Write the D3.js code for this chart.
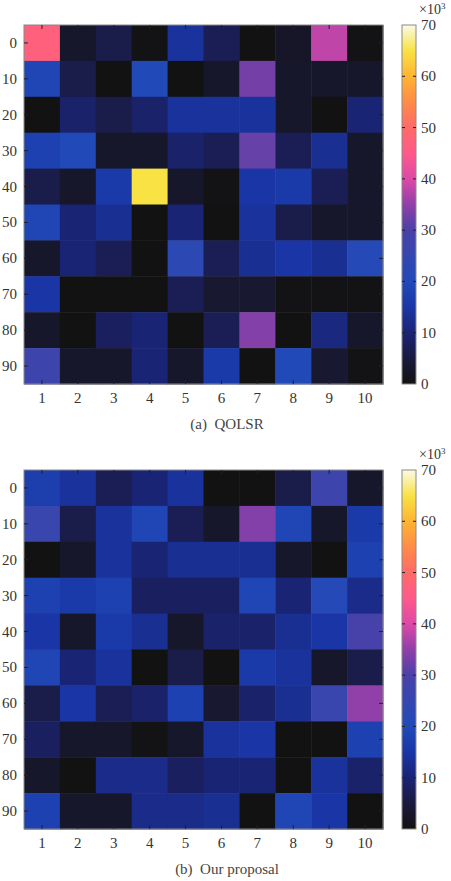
<!DOCTYPE html>
<html>
<head>
<meta charset="utf-8">
<script src="https://cdn.jsdelivr.net/npm/d3@7"></script>
<style>
  body { margin: 0; background: #fff; }
  svg { display: block; font-family: "Liberation Serif", "DejaVu Serif", serif; }
</style>
</head>
<body>
<svg id="fig" width="451" height="881"></svg>
<script>
// columns and rows of the grid
const cols = [1, 2, 3, 4, 5, 6, 7, 8, 9, 10];
const rows = [0, 10, 20, 30, 40, 50, 60, 70, 80, 90];
const cbTicks = [0, 10, 20, 30, 40, 50, 60, 70];

// values in thousands, one array per row (a) QOLSR
const qolsr = [
  [47, 3, 6, 0.5, 14, 7, 0, 2.5, 38, 0.5],
  [19, 6, 0, 20, 0, 3, 33, 3, 3, 3],
  [0, 9, 6, 9, 14, 14, 14, 3, 0, 10],
  [18, 20, 3, 3, 9, 7, 32, 7, 13, 3],
  [6, 3, 16, 65, 3, 0.5, 15, 16, 7, 3],
  [19, 10, 13, 0, 10, 0, 14, 6, 3, 3],
  [3, 10, 7, 0, 23, 7, 13, 15, 13, 21],
  [15, 0, 0, 0, 7, 3.5, 3.5, 0.5, 0.5, 0.5],
  [3, 0, 8, 10, 0, 7, 34, 0, 11, 3],
  [27, 3, 3, 10, 3, 16, 0, 20, 3.5, 0.5]
];

// (b) Our proposal
const proposal = [
  [17, 14, 7, 10, 14, 0, 0, 6, 27, 3],
  [26, 6, 14, 19, 7, 3, 34, 19, 3, 16],
  [0, 3, 14, 10, 13, 13, 13, 3, 0, 18],
  [18, 16, 18, 8, 8, 8, 19, 10, 21, 12],
  [15, 3, 16, 13, 3, 9, 9, 13, 15, 29],
  [19, 10, 14, 0, 6, 0, 16, 14, 3, 6],
  [6, 15, 7, 9, 18, 3.5, 9, 13, 26, 35],
  [8, 3, 3, 0.5, 3, 14, 15, 0, 0, 18],
  [3, 0, 12, 12, 8, 10, 10, 0, 14, 9],
  [18, 3, 3, 12, 12, 13, 0, 19, 15, 0]
];

const panels = [
  { data: qolsr, caption: "(a)  QOLSR", top: 25 },
  { data: proposal, caption: "(b)  Our proposal", top: 470 }
];

const cmapStops = [0, 5, 10, 15, 20, 25, 30, 35, 40, 45, 50, 55, 60, 65, 70];
const cmapColors = ["#121212", "#1a1a3e", "#1a2475", "#1a36a6", "#2149b8", "#3447b0", "#4a41a8",
  "#9040a8", "#de48a8", "#ff5a8a", "#ff6a68", "#ff8c48", "#ffb432", "#f8e244", "#fafae6"];
const color = d3.scaleLinear().domain(cmapStops).range(cmapColors).clamp(true);

const svg = d3.select("#fig");
const left = 24, plotW = 359, plotH = 359;
const cbX = 402, cbW = 14;
const fs = "15px";

const defs = svg.append("defs");
const grad = defs.append("linearGradient").attr("id", "cmap")
  .attr("x1", "0%").attr("x2", "0%").attr("y1", "100%").attr("y2", "0%");
grad.selectAll("stop").data(cmapStops).enter().append("stop")
  .attr("offset", d => d / 70)
  .attr("stop-color", d => color(d));

panels.forEach(p => {
  const x = d3.scaleBand().domain(cols).range([left, left + plotW]);
  const y = d3.scaleBand().domain(rows).range([p.top, p.top + plotH]);
  const g = svg.append("g");

  const cells = [];
  p.data.forEach((r, i) => r.forEach((v, j) => cells.push({ row: rows[i], col: cols[j], v: v })));

  g.selectAll("rect.cell").data(cells).enter().append("rect")
    .attr("class", "cell")
    .attr("x", d => x(d.col))
    .attr("y", d => y(d.row))
    .attr("width", x.bandwidth() + 0.5)
    .attr("height", y.bandwidth() + 0.5)
    .attr("fill", d => color(d.v));

  // frame
  g.append("rect")
    .attr("x", left).attr("y", p.top).attr("width", plotW).attr("height", plotH)
    .attr("fill", "none").attr("stroke", "#8a8a8a").attr("stroke-width", 1);

  // inward ticks
  const tk = 4;
  const tickG = g.append("g").attr("stroke", "#222").attr("stroke-width", 1);
  cols.forEach(c => {
    const cx = x(c) + x.bandwidth() / 2;
    tickG.append("line").attr("x1", cx).attr("x2", cx).attr("y1", p.top).attr("y2", p.top + tk);
    tickG.append("line").attr("x1", cx).attr("x2", cx).attr("y1", p.top + plotH).attr("y2", p.top + plotH - tk);
  });
  rows.forEach(r => {
    const cy = y(r) + y.bandwidth() / 2;
    tickG.append("line").attr("x1", left).attr("x2", left + tk).attr("y1", cy).attr("y2", cy);
    tickG.append("line").attr("x1", left + plotW).attr("x2", left + plotW - tk).attr("y1", cy).attr("y2", cy);
  });

  // labels
  g.selectAll("text.xl").data(cols).enter().append("text")
    .attr("class", "xl")
    .attr("x", d => x(d) + x.bandwidth() / 2)
    .attr("y", p.top + plotH + 19)
    .attr("text-anchor", "middle")
    .attr("font-size", fs).attr("fill", "#333")
    .text(d => d);
  g.selectAll("text.yl").data(rows).enter().append("text")
    .attr("class", "yl")
    .attr("x", 17)
    .attr("y", d => y(d) + y.bandwidth() / 2 + 5)
    .attr("text-anchor", "end")
    .attr("font-size", fs).attr("fill", "#333")
    .text(d => d);

  // colorbar
  const cy = d3.scaleLinear().domain([0, 70]).range([p.top + plotH, p.top]);
  g.append("rect")
    .attr("x", cbX).attr("y", p.top).attr("width", cbW).attr("height", plotH)
    .attr("fill", "url(#cmap)").attr("stroke", "#8a8a8a").attr("stroke-width", 1);
  const cbTk = g.append("g").attr("stroke", "#222").attr("stroke-width", 1);
  cbTicks.slice(1, -1).forEach(t => {
    cbTk.append("line").attr("x1", cbX).attr("x2", cbX + 3).attr("y1", cy(t)).attr("y2", cy(t));
    cbTk.append("line").attr("x1", cbX + cbW).attr("x2", cbX + cbW - 3).attr("y1", cy(t)).attr("y2", cy(t));
  });
  g.selectAll("text.cl").data(cbTicks).enter().append("text")
    .attr("class", "cl")
    .attr("x", 421)
    .attr("y", d => cy(d) + 5)
    .attr("font-size", fs).attr("fill", "#333")
    .text(d => d);
  const mult = g.append("text")
    .attr("x", 419).attr("y", p.top - 11)
    .attr("font-size", "14px").attr("fill", "#333");
  mult.append("tspan").text("\u00d710");
  mult.append("tspan").attr("dy", -5).attr("font-size", "9px").text("3");

  // caption
  g.append("text")
    .attr("x", 227).attr("y", p.top + plotH + 45)
    .attr("text-anchor", "middle")
    .attr("font-size", "15px").attr("fill", "#444")
    .attr("xml:space", "preserve")
    .style("white-space", "pre")
    .text(p.caption);
});
</script>
</body>
</html>
